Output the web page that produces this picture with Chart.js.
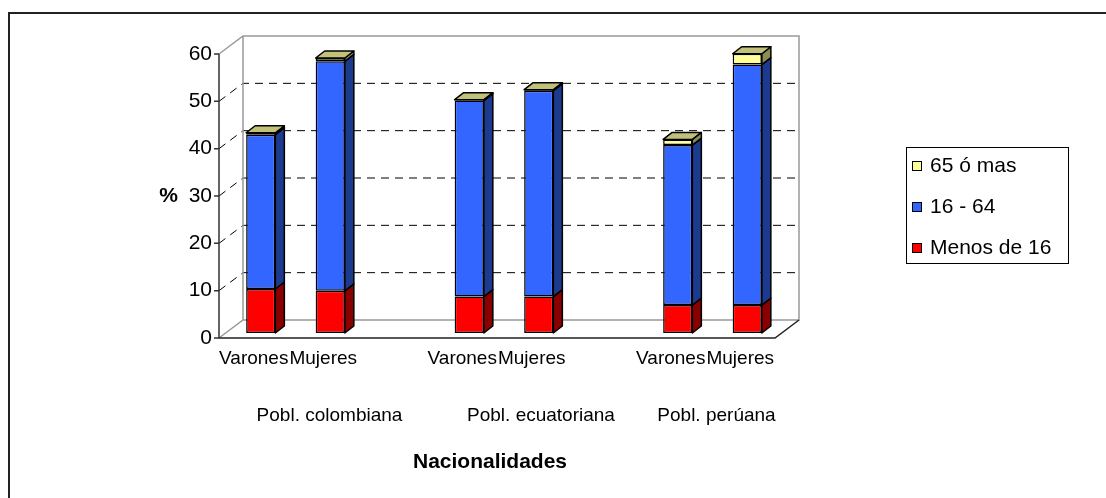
<!DOCTYPE html>
<html>
<head>
<meta charset="utf-8">
<script src="https://cdn.jsdelivr.net/npm/chart.js@4/dist/chart.umd.min.js"></script>
<style>
  html, body { margin: 0; padding: 0; background: #fff; }
</style>
</head>
<body>
<canvas id="chart" width="1106" height="498"></canvas>
<script>
// categories on the x axis (blank slots separate the nationalities)
const categories = ['Varones', 'Mujeres', '', 'Varones', 'Mujeres', '', 'Varones', 'Mujeres'];
const groups = ['Pobl. colombiana', 'Pobl. ecuatoriana', 'Pobl. perúana'];
const seriesNames = ['Menos de 16', '16 - 64', '65 ó mas'];

// % values
const menos16 = [9.3, 8.9, null, 7.7, 7.7, null, 5.9, 5.9];
const de16a64 = [32.6, 48.5, null, 41.4, 43.5, null, 33.8, 50.8];
const mas65   = [0.4, 0.7, null, 0.2, 0.2, null, 1.2, 2.3];

const yTicks = [0, 10, 20, 30, 40, 50, 60];

const FONT = "'Liberation Sans', Arial, sans-serif";
const faceColors = ['#FF0000', '#3366FF', '#FFFF99'];
const sideColors = ['#8A0000', '#1C3A8E', '#8C8C55'];
const topColors  = ['#C06060', '#5570C0', '#C2C17A'];

// 3D offsets, relative to the plane where the bar fronts sit
const DEPTH = { x: 9, y: -7 };
const FRONT = { x: -7, y: 5 };
const BACK  = { x: 17, y: -13 };
// the group labels sit a bit off their bar pairs in the original
const groupShift = [41, 44, 11];

const walls = {
  id: 'walls',
  beforeDatasetsDraw(chart) {
    const { ctx, chartArea: a, scales: { y } } = chart;
    const yMin = yTicks[0], yMax = yTicks[yTicks.length - 1];
    const y0 = y.getPixelForValue(yMin), yT = y.getPixelForValue(yMax);
    ctx.save();

    // dashed gridlines, left wall + back wall
    ctx.strokeStyle = '#000';
    ctx.lineWidth = 1;
    ctx.setLineDash([8, 6]);
    yTicks.forEach(v => {
      if (v === yMin || v === yMax) return;
      const py = y.getPixelForValue(v);
      ctx.beginPath();
      ctx.moveTo(a.left + FRONT.x, py + FRONT.y);
      ctx.lineTo(a.left + BACK.x, py + BACK.y);
      ctx.lineTo(a.right + BACK.x, py + BACK.y);
      ctx.stroke();
    });
    ctx.setLineDash([]);

    // grey wall edges
    ctx.strokeStyle = '#999';
    ctx.lineWidth = 1.5;
    ctx.beginPath();
    ctx.moveTo(a.left + FRONT.x, yT + FRONT.y);
    ctx.lineTo(a.left + BACK.x, yT + BACK.y);
    ctx.lineTo(a.right + BACK.x, yT + BACK.y);
    ctx.lineTo(a.right + BACK.x, y0 + BACK.y);
    ctx.lineTo(a.left + BACK.x, y0 + BACK.y);
    ctx.lineTo(a.left + FRONT.x, y0 + FRONT.y);
    ctx.moveTo(a.left + BACK.x, yT + BACK.y);
    ctx.lineTo(a.left + BACK.x, y0 + BACK.y);
    ctx.stroke();

    // floor front + right edges
    ctx.strokeStyle = '#222';
    ctx.beginPath();
    ctx.moveTo(a.left + FRONT.x, y0 + FRONT.y);
    ctx.lineTo(a.right + FRONT.x, y0 + FRONT.y);
    ctx.lineTo(a.right + BACK.x, y0 + BACK.y);
    ctx.stroke();

    // value axis with small tick marks
    ctx.strokeStyle = '#333';
    ctx.beginPath();
    ctx.moveTo(a.left + FRONT.x, yT + FRONT.y);
    ctx.lineTo(a.left + FRONT.x, y0 + FRONT.y);
    yTicks.forEach(v => {
      const py = y.getPixelForValue(v) + FRONT.y;
      ctx.moveTo(a.left + FRONT.x - 5, py);
      ctx.lineTo(a.left + FRONT.x, py);
    });
    ctx.stroke();
    ctx.restore();
  },

  afterDatasetsDraw(chart) {
    const { ctx } = chart;
    const last = chart.data.datasets.length - 1;
    ctx.save();
    ctx.strokeStyle = '#000';
    ctx.lineWidth = 1.5;
    ctx.lineJoin = 'round';
    chart.data.datasets.forEach((ds, di) => {
      chart.getDatasetMeta(di).data.forEach((el, i) => {
        if (ds.data[i] == null) return;
        const p = el.getProps(['x', 'y', 'base', 'width'], true);
        const l = p.x - p.width / 2, r = p.x + p.width / 2;
        const top = Math.min(p.y, p.base), bot = Math.max(p.y, p.base);
        // right side
        ctx.fillStyle = sideColors[di];
        ctx.beginPath();
        ctx.moveTo(r, bot);
        ctx.lineTo(r + DEPTH.x, bot + DEPTH.y);
        ctx.lineTo(r + DEPTH.x, top + DEPTH.y);
        ctx.lineTo(r, top);
        ctx.closePath();
        ctx.fill();
        ctx.stroke();
        // top face on the highest segment
        if (di === last) {
          ctx.fillStyle = topColors[di];
          ctx.beginPath();
          ctx.moveTo(l, top);
          ctx.lineTo(l + DEPTH.x, top + DEPTH.y);
          ctx.lineTo(r + DEPTH.x, top + DEPTH.y);
          ctx.lineTo(r, top);
          ctx.closePath();
          ctx.fill();
          ctx.stroke();
        }
      });
    });
    ctx.restore();
  },

  afterDraw(chart) {
    const { ctx, chartArea: a, scales: { x, y } } = chart;
    ctx.save();

    // outer frame (only top and left are inside the picture)
    ctx.strokeStyle = '#222';
    ctx.lineWidth = 2;
    ctx.beginPath();
    ctx.moveTo(9, chart.height);
    ctx.lineTo(9, 13);
    ctx.lineTo(chart.width, 13);
    ctx.stroke();

    ctx.fillStyle = '#000';
    ctx.textBaseline = 'middle';

    // "%" axis title
    ctx.font = 'bold 21px ' + FONT;
    ctx.textAlign = 'right';
    ctx.fillText('%', a.left + FRONT.x - 41, y.getPixelForValue(30) + FRONT.y);

    // group labels under each pair of bars
    ctx.font = '19px ' + FONT;
    ctx.textAlign = 'center';
    groups.forEach((g, gi) => {
      const cx = (x.getPixelForValue(gi * 3) + x.getPixelForValue(gi * 3 + 1)) / 2;
      ctx.fillText(g, cx + FRONT.x + groupShift[gi], a.bottom + 83);
    });

    // axis title
    ctx.font = 'bold 21px ' + FONT;
    ctx.fillText('Nacionalidades', (a.left + a.right) / 2 + FRONT.x * 2, a.bottom + 129);

    // legend, top entry first
    const lx = 906, ly = 147, lw = 162, lh = 116;
    ctx.strokeStyle = '#000';
    ctx.lineWidth = 1;
    ctx.strokeRect(lx + 0.5, ly + 0.5, lw, lh);
    ctx.font = '21px ' + FONT;
    ctx.textAlign = 'left';
    for (let k = 0; k < seriesNames.length; k++) {
      const di = seriesNames.length - 1 - k;
      const iy = ly + 19 + k * 41;
      ctx.fillStyle = faceColors[di];
      ctx.fillRect(lx + 6.5, iy - 4.5, 9, 9);
      ctx.strokeRect(lx + 6.5, iy - 4.5, 9, 9);
      ctx.fillStyle = '#000';
      ctx.fillText(seriesNames[di], lx + 24, iy);
    }
    ctx.restore();
  }
};

new Chart(document.getElementById('chart'), {
  type: 'bar',
  data: {
    labels: categories,
    datasets: [
      { label: seriesNames[0], data: menos16, backgroundColor: faceColors[0] },
      { label: seriesNames[1], data: de16a64, backgroundColor: faceColors[1] },
      { label: seriesNames[2], data: mas65, backgroundColor: faceColors[2] }
    ]
  },
  options: {
    responsive: false,
    animation: false,
    devicePixelRatio: 1,
    layout: { padding: { left: 0, right: 324, top: 49, bottom: 0 } },
    datasets: {
      bar: {
        borderColor: '#000',
        borderWidth: 1.5,
        borderSkipped: false,
        categoryPercentage: 1,
        barPercentage: 0.42
      }
    },
    plugins: {
      legend: { display: false },
      tooltip: { enabled: false }
    },
    scales: {
      x: {
        stacked: true,
        grid: { display: false, drawTicks: false },
        border: { display: false },
        ticks: {
          font: { family: FONT, size: 19 },
          color: '#000',
          padding: 14,
          labelOffset: FRONT.x,
          maxRotation: 0,
          minRotation: 0,
          autoSkip: false
        },
        afterFit(s) { s.height = 165; s.paddingLeft = 0; s.paddingRight = 0; }
      },
      y: {
        stacked: true,
        min: 0,
        max: 60,
        grid: { display: false, drawTicks: false },
        border: { display: false },
        ticks: {
          stepSize: 10,
          font: { family: FONT, size: 21 },
          color: '#000',
          padding: 14,
          labelOffset: FRONT.y
        },
        afterFit(s) { s.width = 226; s.paddingTop = 0; s.paddingBottom = 0; }
      }
    }
  },
  plugins: [walls]
});
</script>
</body>
</html>
